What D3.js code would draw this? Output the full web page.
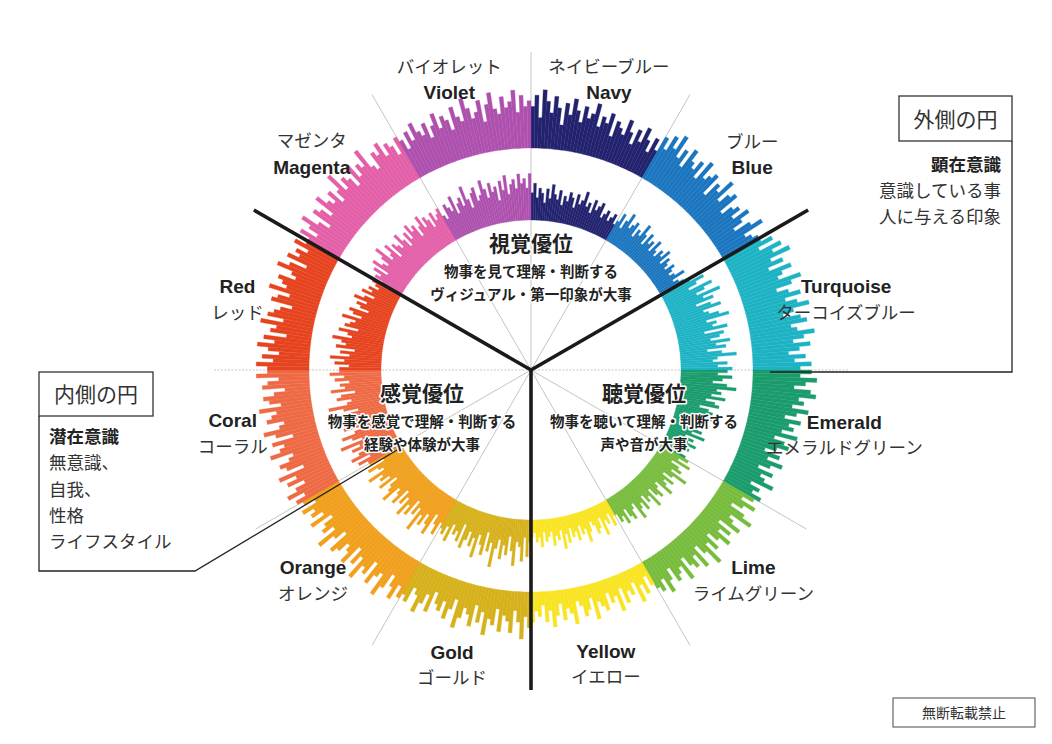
<!DOCTYPE html>
<html><head><meta charset="utf-8">
<script src="https://cdn.jsdelivr.net/npm/d3@7"></script>
<style>body{margin:0;background:#fff} svg{display:block}</style>
</head><body><svg id="c" width="1052" height="744"></svg>
<script>
// ---------------- DATA ----------------
const sectors   = ["Navy","Blue","Turquoise","Emerald","Lime","Yellow","Gold","Orange","Coral","Red","Magenta","Violet"];
const sectorsJa = ["ネイビーブルー","ブルー","ターコイズブルー","エメラルドグリーン","ライムグリーン","イエロー","ゴールド","オレンジ","コーラル","レッド","マゼンタ","バイオレット"];
const colors    = ["#22226f","#1b76bf","#1eb3c4","#1a9c6c","#77bc3d","#f8e423","#d6b11b","#f0a01d","#ee6a45","#e6431f","#e35fa8","#ad50ae"];

// outer circle (顕在意識) bar levels, 36 bars per colour, clockwise
const navyOut   = [6,8,4,9,7,5,8,6,3,7,5,8,6,4,7,5,6,8,4,6,5,7,3,6,5,4,7,5,3,6,4,7,5,3,6,4];
const blueOut   = [7,5,8,6,9,5,7,4,8,6,5,7,4,8,5,6,7,3,6,5,8,4,6,7,3,5,6,4,7,5,3,6,8,4,5,6];
const turqOut   = [6,8,5,9,7,10,6,8,5,9,7,6,10,8,5,7,9,6,8,10,7,5,8,9,6,7,10,8,6,9,7,5,8,6,9,7];
const emerOut   = [9,7,10,8,6,9,10,7,8,6,9,7,5,8,6,7,5,8,4,6,7,5,3,6,4,7,5,3,6,4,5,7,3,5,4,6];
const limeOut   = [5,3,6,4,2,5,7,3,4,6,2,5,3,6,4,2,5,3,7,4,2,6,3,5,4,2,6,3,4,5,2,4,6,3,5,4];
const yellOut   = [3,1,4,2,5,1,3,2,4,1,5,2,3,1,4,3,2,5,1,3,4,2,1,5,3,2,4,1,3,5,2,4,1,3,2,4];
const goldOut   = [5,3,7,4,2,6,4,3,6,2,5,4,7,3,5,2,6,4,3,5,7,2,4,6,3,5,4,2,6,3,5,7,4,3,6,5];
const orangeOut = [6,4,7,5,3,6,8,4,5,7,3,6,5,8,4,6,3,7,5,4,6,7,3,5,8,4,6,5,3,7,4,6,5,7,4,6];
const coralOut  = [7,5,8,6,4,7,5,8,3,6,7,5,4,8,6,5,7,3,6,8,5,4,7,6,5,8,4,6,7,5,3,7,6,4,8,6];
const redOut    = [6,8,5,7,4,6,8,5,7,3,6,5,8,4,7,6,5,3,7,6,4,8,5,6,7,4,5,8,6,3,7,5,6,4,7,5];
const magOut    = [5,7,4,6,8,5,3,7,6,4,8,6,5,7,4,6,9,5,7,6,4,8,5,7,6,9,5,4,7,6,8,5,7,6,4,7];
const violOut   = [6,4,7,5,8,6,5,7,4,6,8,5,7,6,4,8,6,5,9,7,5,6,8,4,7,9,6,5,8,6,7,9,5,8,6,7];

// inner circle (潜在意識) bar levels
const navyIn   = [4,6,3,5,4,2,5,3,6,4,3,5,2,4,3,5,4,2,5,3,4,6,3,4,2,5,3,4,5,2,3,4,2,3,4,2];
const blueIn   = [3,5,2,4,6,3,4,5,2,4,3,6,4,2,5,3,4,2,5,3,2,4,3,5,2,4,3,2,4,3,2,3,5,2,3,4];
const turqIn   = [5,8,6,4,9,7,5,10,6,8,4,7,9,5,6,8,10,5,7,6,9,4,8,7,5,9,6,8,4,7,10,6,5,8,6,9];
const emerIn   = [8,6,9,7,5,8,10,6,7,5,8,4,6,7,3,5,6,4,7,3,5,6,2,4,5,3,6,2,4,3,5,2,4,3,2,4];
const limeIn   = [5,3,6,2,4,5,3,7,4,2,5,3,4,6,2,3,5,4,2,6,3,4,2,5,3,4,6,2,3,5,4,2,5,3,4,2];
const yellIn   = [2,4,1,3,2,5,1,3,4,2,1,3,5,2,3,1,4,2,3,1,4,2,5,1,3,2,4,1,2,3,1,4,2,3,1,2];
const goldIn   = [3,6,2,7,4,3,8,5,2,6,4,7,3,5,9,4,6,2,7,5,3,8,4,6,3,5,7,2,6,4,5,3,7,4,6,5];
const orangeIn = [4,7,5,3,8,6,4,7,5,9,4,6,3,7,5,8,4,6,3,7,5,4,8,6,5,3,7,4,6,5,8,4,5,7,3,6];
const coralIn  = [6,8,5,9,7,4,8,6,10,5,7,9,6,4,8,7,5,9,6,8,4,7,10,6,5,8,7,4,9,6,7,5,8,6,9,7];
const redIn    = [7,5,8,6,9,5,7,4,8,6,7,9,5,6,8,4,7,6,5,8,4,6,7,3,5,6,4,7,5,3,6,4,5,3,4,5];
const magIn    = [3,5,4,6,3,7,5,4,6,8,4,5,7,3,6,5,4,7,5,3,6,4,7,5,6,3,5,7,4,6,5,3,6,4,5,6];
const violIn   = [4,3,6,5,4,7,3,5,6,4,8,5,3,6,7,4,5,8,6,4,7,5,6,3,7,5,8,4,6,7,5,8,6,7,5,8];

const outerSeries = [navyOut,blueOut,turqOut,emerOut,limeOut,yellOut,goldOut,orangeOut,coralOut,redOut,magOut,violOut];
const innerSeries = [navyIn,blueIn,turqIn,emerIn,limeIn,yellIn,goldIn,orangeIn,coralIn,redIn,magIn,violIn];

const groups = [
  {title:"視覚優位", l1:"物事を見て理解・判断する", l2:"ヴィジュアル・第一印象が大事"},
  {title:"感覚優位", l1:"物事を感覚で理解・判断する", l2:"経験や体験が大事"},
  {title:"聴覚優位", l1:"物事を聴いて理解・判断する", l2:"声や音が大事"}
];
const outerNote = ["顕在意識","意識している事","人に与える印象"];
const innerNote = ["潜在意識","無意識、","自我、","性格","ライフスタイル"];

// ---------------- LAYOUT ----------------
const cx = 531, cy = 370, N = 36;
const EN = "'Liberation Sans', Arial, sans-serif";
const JP = "'Noto Sans CJK JP', sans-serif";
const svg = d3.select("#c");
const g = svg.append("g").attr("transform", `translate(${cx},${cy})`);
const pol = (deg, r) => [r*Math.sin(deg*Math.PI/180), -r*Math.cos(deg*Math.PI/180)];

const angle  = d3.scaleLinear().domain([0, sectors.length*N]).range([0, 2*Math.PI]);
const rOuter = d3.scaleLinear().domain([0,10]).range([230,286]);
const rInner = d3.scaleLinear().domain([0,10]).range([158,206]);
const arc = d3.arc();

// gray radial guide lines
d3.range(12).forEach(i => {
  const [x,y] = pol(i*30, 318);
  g.append("line").attr("x1",0).attr("y1",0).attr("x2",x).attr("y2",y)
   .attr("stroke", "#c4c4c4").attr("stroke-width", 1)
   .attr("stroke-dasharray", (i%3===0 && i!==0) ? "2,1.5" : null);
});

function ring(series, scale, r0, cls){
  const data = [];
  series.forEach((vals, s) => vals.forEach((v, j) => data.push({s, i: s*N + j, v})));
  g.append("g").selectAll("path").data(data).join("path")
    .attr("class", cls)
    .attr("d", d => arc({innerRadius: r0, outerRadius: scale(d.v),
                         startAngle: angle(d.i), endAngle: angle(d.i + 1)}))
    .attr("fill", d => colors[d.s]).attr("stroke", d => colors[d.s]).attr("stroke-width", 0.35);
}
ring(outerSeries, rOuter, 222, "outer");
ring(innerSeries, rInner, 150, "inner");

// thick dividing lines
[60,180,300].forEach(a => {
  const [x,y] = pol(a, 320);
  g.append("line").attr("x1",0).attr("y1",0).attr("x2",x).attr("y2",y)
   .attr("stroke","#1a1a1a").attr("stroke-width",3.6).attr("stroke-linecap","butt");
});

// sector labels (pair centre in polar coords)
const labelAng = [15,45.7,77.3,101.7,133.4,165.7,195,226,258,283.6,314.6,344.3];
const labelR   = [301,309,323,320,306,303,305,303,305,302,308,302];
sectors.forEach((name, i) => {
  const [x,y] = pol(labelAng[i], labelR[i]);
  const top = (i <= 1 || i >= 10);  // Japanese first on upper labels
  const enY = top ? y + 13 : y - 13;
  const jpY = top ? y - 13 : y + 13;
  g.append("text").attr("x",x).attr("y",enY + 7).attr("text-anchor","middle")
   .attr("font-family",EN).attr("font-weight","bold").attr("font-size",19).attr("fill","#222").text(name);
  g.append("text").attr("x",x).attr("y",jpY + 6.5).attr("text-anchor","middle")
   .attr("font-family",JP).attr("font-size",17.5).attr("fill","#333").text(sectorsJa[i]);
});

// group captions
const groupPos = [[0,-127],[-109,23],[113,23]];
groups.forEach((gr, k) => {
  const [x,y] = groupPos[k];
  const t = g.append("g").attr("font-family",JP).attr("text-anchor","middle").attr("font-weight","bold")
    .attr("fill","#222").attr("stroke","#fff").attr("stroke-width",3).attr("stroke-linejoin","round")
    .style("paint-order","stroke");
  t.append("text").attr("x",x).attr("y",y+8).attr("font-size",21).text(gr.title);
  t.append("text").attr("x",x).attr("y",y+34).attr("font-size",14.5).text(gr.l1);
  t.append("text").attr("x",x).attr("y",y+57).attr("font-size",14.5).text(gr.l2);
});

// ---- outer circle note box ----
svg.append("rect").attr("x",899).attr("y",96).attr("width",113).attr("height",45)
  .attr("fill","#fff").attr("stroke","#333").attr("stroke-width",1.3);
svg.append("text").attr("x",955.5).attr("y",127).attr("text-anchor","middle")
  .attr("font-family",JP).attr("font-size",21).attr("fill","#333").text("外側の円");
svg.append("polyline").attr("points","1012,141 1012,372 770,372")
  .attr("fill","none").attr("stroke","#222").attr("stroke-width",1.3);
outerNote.forEach((t,i) => {
  svg.append("text").attr("x",1001).attr("y",171 + i*26).attr("text-anchor","end")
    .attr("font-family",JP).attr("font-size",17.5).attr("font-weight", i===0 ? "bold" : "normal")
    .attr("fill", i===0 ? "#222" : "#333").text(t);
});

// ---- inner circle note box ----
svg.append("rect").attr("x",39).attr("y",372).attr("width",114).attr("height",44)
  .attr("fill","#fff").attr("stroke","#333").attr("stroke-width",1.3);
svg.append("text").attr("x",96).attr("y",402).attr("text-anchor","middle")
  .attr("font-family",JP).attr("font-size",21).attr("fill","#333").text("内側の円");
svg.append("polyline").attr("points","39,416 39,571 195,571 397,450")
  .attr("fill","none").attr("stroke","#222").attr("stroke-width",1.3);
innerNote.forEach((t,i) => {
  svg.append("text").attr("x",49).attr("y",443 + i*26.3)
    .attr("font-family",JP).attr("font-size",17.5).attr("font-weight", i===0 ? "bold" : "normal")
    .attr("fill", i===0 ? "#222" : "#333").text(t);
});

// ---- copyright box ----
svg.append("rect").attr("x",893).attr("y",698).attr("width",142).attr("height",29)
  .attr("fill","#fff").attr("stroke","#666").attr("stroke-width",1.2);
svg.append("text").attr("x",964).attr("y",718).attr("text-anchor","middle")
  .attr("font-family",JP).attr("font-size",14).attr("fill","#333").text("無断転載禁止");
</script>
</body></html>
